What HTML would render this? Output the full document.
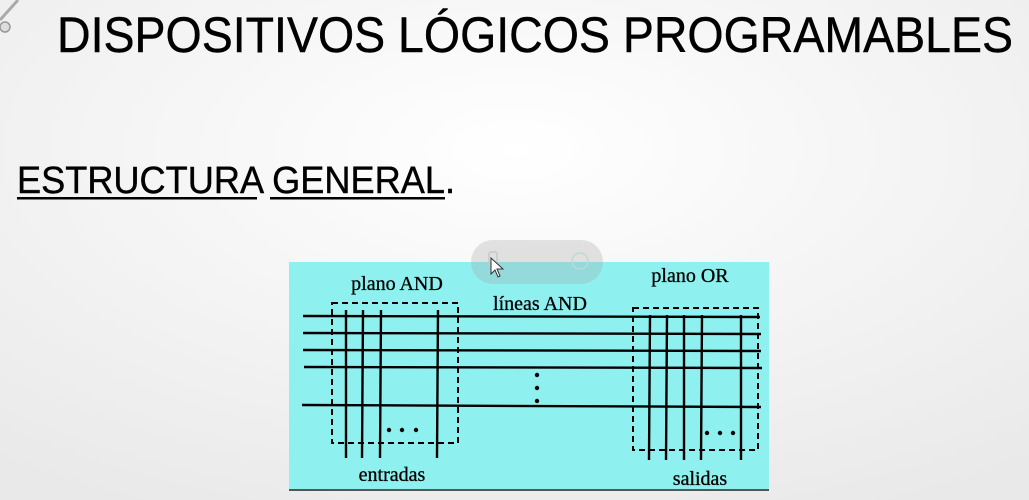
<!DOCTYPE html>
<html><head><meta charset="utf-8">
<style>
html,body{margin:0;padding:0;width:1029px;height:500px;overflow:hidden;}
body{background:#f4f4f4;}
svg{display:block}
</style></head><body>
<svg width="1029" height="500" viewBox="0 0 1029 500" xmlns="http://www.w3.org/2000/svg">
<defs>
<radialGradient id="bg" cx="0.5" cy="0.3" r="0.8"><stop offset="0" stop-color="#ffffff"/><stop offset="1" stop-color="#e9e9e9"/></radialGradient>
</defs>
<rect width="1029" height="500" fill="url(#bg)"/>
<path d="M0,20 L18,0" stroke="#aaa" stroke-width="3"/>
<circle cx="5" cy="27" r="5" fill="#ddd" stroke="#999" stroke-width="1.5"/>
<text x="57" y="52" font-family="Liberation Sans, sans-serif" font-size="50" fill="#000" stroke="#000" stroke-width="0.4" textLength="956" lengthAdjust="spacingAndGlyphs">DISPOSITIVOS LÓGICOS PROGRAMABLES</text>
<text x="17" y="193" font-family="Liberation Sans, sans-serif" font-size="38" fill="#000" stroke="#000" stroke-width="0.4" textLength="438" lengthAdjust="spacingAndGlyphs">ESTRUCTURA GENERAL.</text>
<rect x="17" y="197" width="240" height="2.5" fill="#000"/>
<rect x="270" y="197" width="175" height="2.5" fill="#000"/>
<rect x="289" y="262" width="480" height="228" fill="#8ff0f0"/>
<line x1="289" y1="490" x2="769" y2="490" stroke="#555" stroke-width="2"/>
<g stroke="#000" stroke-width="2.4">
<line x1="303" y1="316" x2="760" y2="317"/>
<line x1="303" y1="333" x2="761" y2="334"/>
<line x1="303" y1="350" x2="761" y2="351"/>
<line x1="304" y1="367" x2="762" y2="368"/>
<line x1="302" y1="405" x2="761" y2="407"/>
<line x1="346" y1="310" x2="346" y2="458"/>
<line x1="363" y1="310" x2="362" y2="458"/>
<line x1="381" y1="310" x2="380" y2="458"/>
<line x1="438" y1="310" x2="437" y2="458"/>
<line x1="650" y1="315" x2="649" y2="460"/>
<line x1="667" y1="315" x2="666" y2="460"/>
<line x1="684" y1="315" x2="684" y2="460"/>
<line x1="702" y1="315" x2="701" y2="460"/>
<line x1="741" y1="315" x2="741" y2="460"/>
</g>
<g fill="none" stroke="#000" stroke-width="2" stroke-dasharray="6,4">
<rect x="332" y="303" width="126" height="140"/>
<rect x="633" y="308" width="125" height="142"/>
</g>
<g fill="#000">
<circle cx="537" cy="375" r="2.2"/><circle cx="537" cy="388" r="2.2"/><circle cx="537" cy="401" r="2.2"/>
<circle cx="389" cy="430" r="2.2"/><circle cx="402" cy="430" r="2.2"/><circle cx="416" cy="430" r="2.2"/>
<circle cx="707" cy="433" r="2.2"/><circle cx="720" cy="433" r="2.2"/><circle cx="733" cy="433" r="2.2"/>
</g>
<g font-family="Liberation Serif, serif" font-size="20" fill="#000" stroke="#000" stroke-width="0.3" text-anchor="middle">
<text x="397" y="290">plano AND</text>
<text x="540" y="310">líneas AND</text>
<text x="690" y="282">plano OR</text>
<text x="392" y="481">entradas</text>
<text x="700" y="485">salidas</text>
</g>
<rect x="471" y="240" width="132" height="44" rx="22" fill="#a0a0a0" fill-opacity="0.28"/>
<rect x="489" y="252" width="8" height="14" rx="2" fill="none" stroke="#c8c8c8" stroke-width="1.5"/>
<circle cx="580" cy="261" r="8" fill="none" stroke="#bfd8d8" stroke-width="1.5"/>
<path d="M491,258 L491,274 L495,270 L498,277 L500,276 L497,269 L503,269 Z" fill="#fff" stroke="#333" stroke-width="1"/>
</svg>
</body></html>
